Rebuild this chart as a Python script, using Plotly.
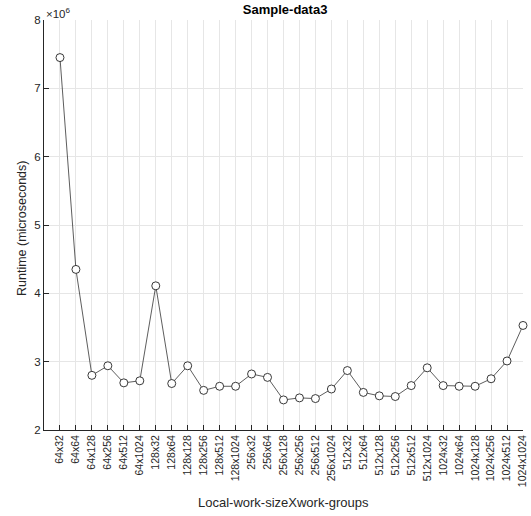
import plotly.graph_objects as go

categories = ["64x32", "64x64", "64x128", "64x256", "64x512", "64x1024",
              "128x32", "128x64", "128x128", "128x256", "128x512", "128x1024",
              "256x32", "256x64", "256x128", "256x256", "256x512", "256x1024",
              "512x32", "512x64", "512x128", "512x256", "512x512", "512x1024",
              "1024x32", "1024x64", "1024x128", "1024x256", "1024x512", "1024x1024"]
runtime_us = [7450000, 4350000, 2800000, 2940000, 2690000, 2720000,
              4110000, 2680000, 2940000, 2580000, 2640000, 2640000,
              2820000, 2770000, 2440000, 2470000, 2460000, 2600000,
              2870000, 2550000, 2500000, 2490000, 2650000, 2910000,
              2650000, 2640000, 2640000, 2750000, 3010000, 3530000]
y_tick_vals = [2e6, 3e6, 4e6, 5e6, 6e6, 7e6, 8e6]
y_tick_text = ["2", "3", "4", "5", "6", "7", "8"]

positions = list(range(1, len(categories) + 1))
font = "Liberation Sans, Arial, Helvetica, sans-serif"

fig = go.Figure()
fig.add_trace(go.Scatter(
    x=positions, y=runtime_us, mode="lines+markers",
    line=dict(color="#333333", width=0.8),
    marker=dict(symbol="circle", size=8, color="white",
                line=dict(color="#222222", width=0.9)),
    cliponaxis=False, showlegend=False,
))

fig.update_layout(
    width=531, height=516,
    margin=dict(l=44, r=8, t=20, b=86, autoexpand=False),
    paper_bgcolor="white", plot_bgcolor="white",
    font=dict(family=font, size=11, color="#262626"),
    title=dict(text="<b>Sample-data3</b>", x=0.537, xanchor="center",
               y=0.982, yanchor="middle", font=dict(size=13, color="black")),
    xaxis=dict(
        range=[0, 30], tickmode="array", tickvals=positions, ticktext=categories,
        tickangle=-90, ticks="inside", ticklen=5, tickcolor="#262626",
        showline=True, linecolor="#262626", linewidth=1,
        showgrid=True, gridcolor="#e6e6e6", gridwidth=1, zeroline=False,
        tickfont=dict(size=10.5), automargin=False,
    ),
    yaxis=dict(
        range=[2e6, 8e6], tickmode="array", tickvals=y_tick_vals, ticktext=y_tick_text,
        ticks="inside", ticklen=5, tickcolor="#262626",
        showline=True, linecolor="#262626", linewidth=1,
        showgrid=True, gridcolor="#e6e6e6", gridwidth=1, zeroline=False,
        tickfont=dict(size=11.5), automargin=False,
    ),
    annotations=[
        dict(text="×10<sup>6</sup>", xref="paper", yref="paper",
             x=0.0, y=1.0, xanchor="left", yanchor="bottom", yshift=-2,
             showarrow=False, font=dict(size=11.5, color="#262626")),
        dict(text="Local-work-sizeXwork-groups", xref="paper", yref="paper",
             x=0.5, y=0, xanchor="center", yanchor="middle", yshift=-72,
             showarrow=False, font=dict(size=13, color="#262626")),
        dict(text="Runtime (microseconds)", xref="paper", yref="paper",
             x=0, y=0.5, xanchor="center", yanchor="middle", xshift=-22, yshift=-4,
             textangle=-90, showarrow=False, font=dict(size=12.5, color="#262626")),
    ],
)

fig.write_html("out.html", config={"displayModeBar": False},
               post_script="document.body.style.margin='0px';document.body.style.overflow='hidden';")
